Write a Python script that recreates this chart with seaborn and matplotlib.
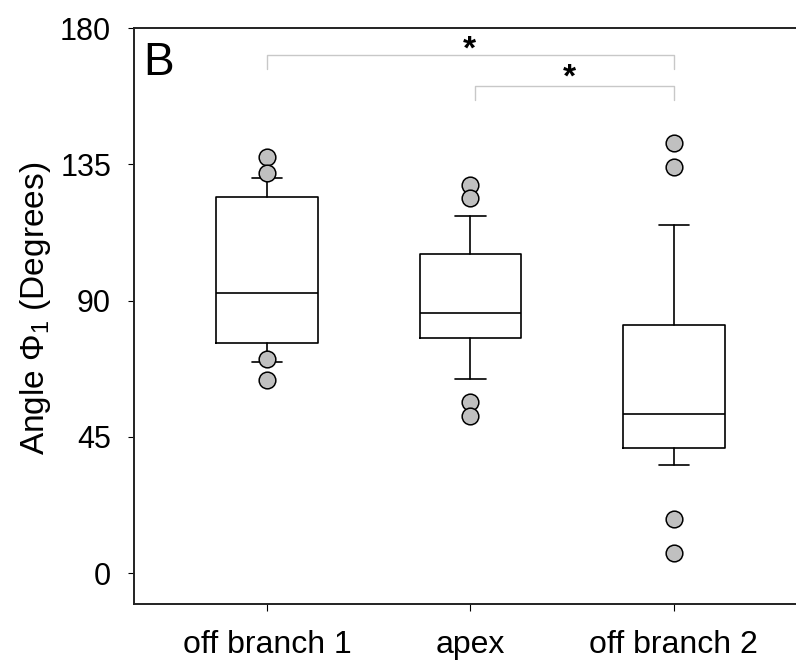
import numpy as np
import pandas as pd
import matplotlib
matplotlib.use('Agg')
import matplotlib.pyplot as plt
import seaborn as sns


# box plot summary (10th/90th percentile whiskers)
groups = ['off branch 1', 'apex', 'off branch 2']
q1 = [75.9, 77.8, 41.2]
medians = [92.4, 85.9, 52.7]
q3 = [124.1, 105.5, 81.8]
whis_lo = [69.6, 64.1, 35.6]
whis_hi = [130.4, 118.0, 115.1]
outliers = {
	'off branch 1': [137.5, 132.0, 70.6, 63.7],
	'apex': [128.1, 123.7, 56.5, 51.8],
	'off branch 2': [142.0, 134.1, 17.8, 6.8],
}
yticks = [0, 45, 90, 135, 180]

# significance brackets: (left group, right group, top, bottom of legs)
brackets = [(0, 2, 171.2, 166.3), (1.02, 2, 160.8, 156.1)]
stars = [(0.993, 172.6), (1.484, 163.5)]


sns.set_style('ticks')
plt.rcParams['font.family'] = ['Liberation Sans', 'DejaVu Sans']
plt.rcParams['text.color'] = 'black'
plt.rcParams['axes.labelcolor'] = 'black'
plt.rcParams['xtick.color'] = 'black'
plt.rcParams['ytick.color'] = 'black'
plt.rcParams['mathtext.fontset'] = 'custom'
plt.rcParams['mathtext.rm'] = 'Liberation Sans'
plt.rcParams['mathtext.it'] = 'Liberation Sans:italic'

fig = plt.figure(figsize = (7.96, 6.64), dpi = 100)
ax = fig.add_axes([134/796, 60/664, 1 - 134/796, 576/664])

stats = []
for i, g in enumerate(groups):
	stats.append(dict(label = g, q1 = q1[i], med = medians[i], q3 = q3[i],
					  whislo = whis_lo[i], whishi = whis_hi[i], fliers = []))

lineStyle = dict(color = 'black', linewidth = 1.2)
ax.bxp(stats, positions = [0, 1, 2], widths = 0.5, capwidths = 0.15, showfliers = False,
	   boxprops = lineStyle, medianprops = lineStyle, whiskerprops = lineStyle,
	   capprops = lineStyle, manage_ticks = False)

outDf = pd.DataFrame([(g, v) for g in groups for v in outliers[g]], columns = ['group', 'angle'])
sns.stripplot(data = outDf, x = 'group', y = 'angle', order = groups, jitter = False,
			  color = '#c0c0c0', edgecolor = 'black', linewidth = 1.1, size = 12,
			  ax = ax, zorder = 3)

for x1, x2, top, bot in brackets:
	ax.plot([x1, x1, x2, x2], [bot, top, top, bot], color = '#c8c8c8', linewidth = 1, clip_on = False)
for x, y in stars:
	ax.text(x, y, '*', ha = 'center', va = 'center', fontsize = 24, fontweight = 'bold', color = 'black')

ax.text(0.014, 0.918, 'B', transform = ax.transAxes, ha = 'left', va = 'baseline', fontsize = 33, color = 'black')

ax.set_xlim(-0.654, 2.6)
ax.set_ylim(-10.2, 180)
ax.set_yticks(yticks)
ax.set_xticks([0, 1, 2])
ax.set_xticklabels(groups)
ax.set_xlabel('')
ax.set_ylabel(r'Angle $\mathrm{\Phi}_1$ (Degrees)', fontsize = 24)
ax.yaxis.set_label_coords(-0.122, 0.514)

ax.tick_params(axis = 'y', labelsize = 22, length = 4.5, width = 0.8, pad = 12, direction = 'out')
ax.tick_params(axis = 'x', labelsize = 23, length = 5, width = 0.8, pad = 14, direction = 'out')

for side in ['left', 'bottom', 'top']:
	ax.spines[side].set_linewidth(1.4)
	ax.spines[side].set_color('#222222')
ax.spines['right'].set_visible(False)

fig.savefig('out.png', dpi = 100)
